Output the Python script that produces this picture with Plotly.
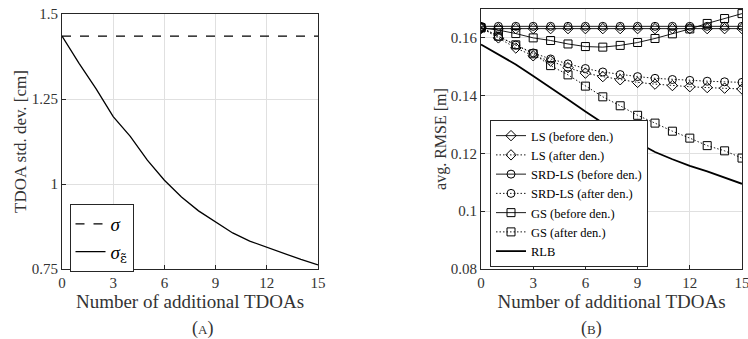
import plotly.graph_objects as go

# ---------------- data ----------------
n_add = list(range(16))

sigma_val = 1.435
sigma_eps = [1.435, 1.355, 1.280, 1.198, 1.140, 1.070, 1.011, 0.962, 0.921,
             0.888, 0.856, 0.832, 0.814, 0.794, 0.778, 0.762]

ls_before = [0.1632] * 16
ls_after = [0.1635, 0.1600, 0.1565, 0.1538, 0.1520, 0.1497, 0.1478, 0.1466,
            0.1455, 0.1446, 0.1440, 0.1435, 0.1431, 0.1428, 0.1426, 0.1423]
srd_before = [0.1640] * 16
srd_after = [0.1638, 0.1605, 0.1575, 0.1548, 0.1527, 0.1510, 0.1494, 0.1482,
             0.1473, 0.1466, 0.1460, 0.1456, 0.1453, 0.1450, 0.1448, 0.1446]
gs_before = [0.1635, 0.1627, 0.1615, 0.1600, 0.1591, 0.1579, 0.1570, 0.1568,
             0.1574, 0.1584, 0.1598, 0.1614, 0.1631, 0.1650, 0.1667, 0.1684]
gs_after = [0.1635, 0.1606, 0.1576, 0.1545, 0.1504, 0.1472, 0.1433, 0.1396,
            0.1365, 0.1332, 0.1305, 0.1277, 0.1253, 0.1227, 0.1209, 0.1184]
rlb = [0.1577, 0.1542, 0.1508, 0.1468, 0.1429, 0.1387, 0.1345, 0.1305,
       0.1270, 0.1237, 0.1205, 0.1180, 0.1157, 0.1138, 0.1117, 0.1095]

x_ticks = [0, 3, 6, 9, 12, 15]
yA_ticks = [0.75, 1.0, 1.25, 1.5]
yA_labels = ["0.75", "1", "1.25", "1.5"]
yB_ticks = [0.08, 0.10, 0.12, 0.14, 0.16]
yB_labels = ["0.08", "0.1", "0.12", "0.14", "0.16"]

# ---------------- style ----------------
FONT = "Liberation Serif"
TXT = "#333333"
AX = "#262626"
GRID = "#e0e0e0"
W, H = 748, 339
DOT = "1.5px,2px"

fig = go.Figure()

# panel A
fig.add_trace(go.Scatter(x=n_add, y=[sigma_val] * len(n_add), mode="lines",
                         line=dict(color="black", width=1.3, dash="dash"),
                         name="<i>σ</i>", legend="legend", xaxis="x", yaxis="y"))
fig.add_trace(go.Scatter(x=n_add, y=sigma_eps, mode="lines",
                         line=dict(color="black", width=1.3),
                         name="<i>σ</i><sub><span style='font-family:DejaVu Serif'>ε̃</span></sub>",
                         legend="legend", xaxis="x", yaxis="y"))

# panel B
def add_b(y, name, symbol, dash, width=0.9, msize=8, mode="lines+markers"):
    fig.add_trace(go.Scatter(
        x=n_add, y=y, mode=mode, name=name, legend="legend2",
        xaxis="x2", yaxis="y2",
        line=dict(color="black", width=width, dash=dash),
        marker=dict(symbol=symbol, size=msize, color="black",
                    line=dict(color="black", width=1))))

add_b(ls_before, "LS (before den.)", "diamond-open", "solid")
add_b(ls_after, "LS (after den.)", "diamond-open", DOT)
add_b(srd_before, "SRD-LS (before den.)", "circle-open", "solid")
add_b(srd_after, "SRD-LS (after den.)", "circle-open", DOT)
add_b(gs_before, "GS (before den.)", "square-open", "solid")
add_b(gs_after, "GS (after den.)", "square-open", DOT)
add_b(rlb, "RLB", "circle", "solid", width=1.8, mode="lines")

def xdom(a, b):
    return [a / W, b / W]

def ydom(top, bottom):
    return [1 - bottom / H, 1 - top / H]

common = dict(showline=True, mirror=True, linecolor=AX, linewidth=1,
              ticks="inside", ticklen=4, tickcolor=AX, showgrid=True,
              gridcolor=GRID, gridwidth=1, zeroline=False, automargin=False,
              ticklabeloverflow="allow",
              tickfont=dict(family=FONT, size=15, color=TXT))

fig.update_layout(
    template="none",
    width=W, height=H, margin=dict(l=0, r=0, t=0, b=0, autoexpand=False),
    paper_bgcolor="white", plot_bgcolor="white",
    font=dict(family=FONT, color=TXT),
    xaxis=dict(domain=xdom(62, 318), range=[0, 15], tickvals=x_ticks,
               anchor="y",
               title=dict(text="Number of additional TDOAs",
                          font=dict(family=FONT, size=19, color=TXT),
                          standoff=0),
               **common),
    yaxis=dict(domain=ydom(14, 269), range=[0.75, 1.5], tickvals=yA_ticks,
               ticktext=yA_labels, anchor="x",
               title=dict(text="TDOA std. dev. [cm]",
                          font=dict(family=FONT, size=17, color=TXT),
                          standoff=0),
               **common),
    xaxis2=dict(domain=xdom(481, 742), range=[0, 15], tickvals=x_ticks,
                anchor="y2",
                title=dict(text="Number of additional TDOAs",
                           font=dict(family=FONT, size=19, color=TXT),
                           standoff=0),
                **common),
    yaxis2=dict(domain=ydom(9, 269), range=[0.08, 0.17], tickvals=yB_ticks,
                ticktext=yB_labels, anchor="x2",
                title=dict(text="avg. RMSE [m]",
                           font=dict(family=FONT, size=16, color=TXT),
                           standoff=0),
                **common),
    legend=dict(x=69.5 / W, y=1 - 204 / H, xanchor="left", yanchor="top",
                bgcolor="white", bordercolor=AX, borderwidth=1,
                font=dict(family=FONT, size=19, color="black"),
                tracegroupgap=0, itemwidth=30),
    legend2=dict(x=490 / W, y=1 - 267 / H, xanchor="left", yanchor="bottom",
                 bgcolor="white", bordercolor=AX, borderwidth=1,
                 font=dict(family=FONT, size=12.5, color="black"),
                 tracegroupgap=0, itemwidth=30),
    showlegend=True,
)

fig.add_annotation(x=190 / W, y=1 - 328 / H, xref="paper", yref="paper",
                   yanchor="middle",
                   text="(<span style='font-size:13px'>A</span>)",
                   showarrow=False, font=dict(family=FONT, size=18, color=TXT))
fig.add_annotation(x=604 / W, y=1 - 328 / H, xref="paper", yref="paper",
                   yanchor="middle",
                   text="(<span style='font-size:13px'>B</span>)",
                   showarrow=False, font=dict(family=FONT, size=18, color=TXT))

fig.write_html("out.html",
               config={"displayModeBar": False},
               post_script="document.body.style.margin='0';"
                           "document.body.style.padding='0';")
